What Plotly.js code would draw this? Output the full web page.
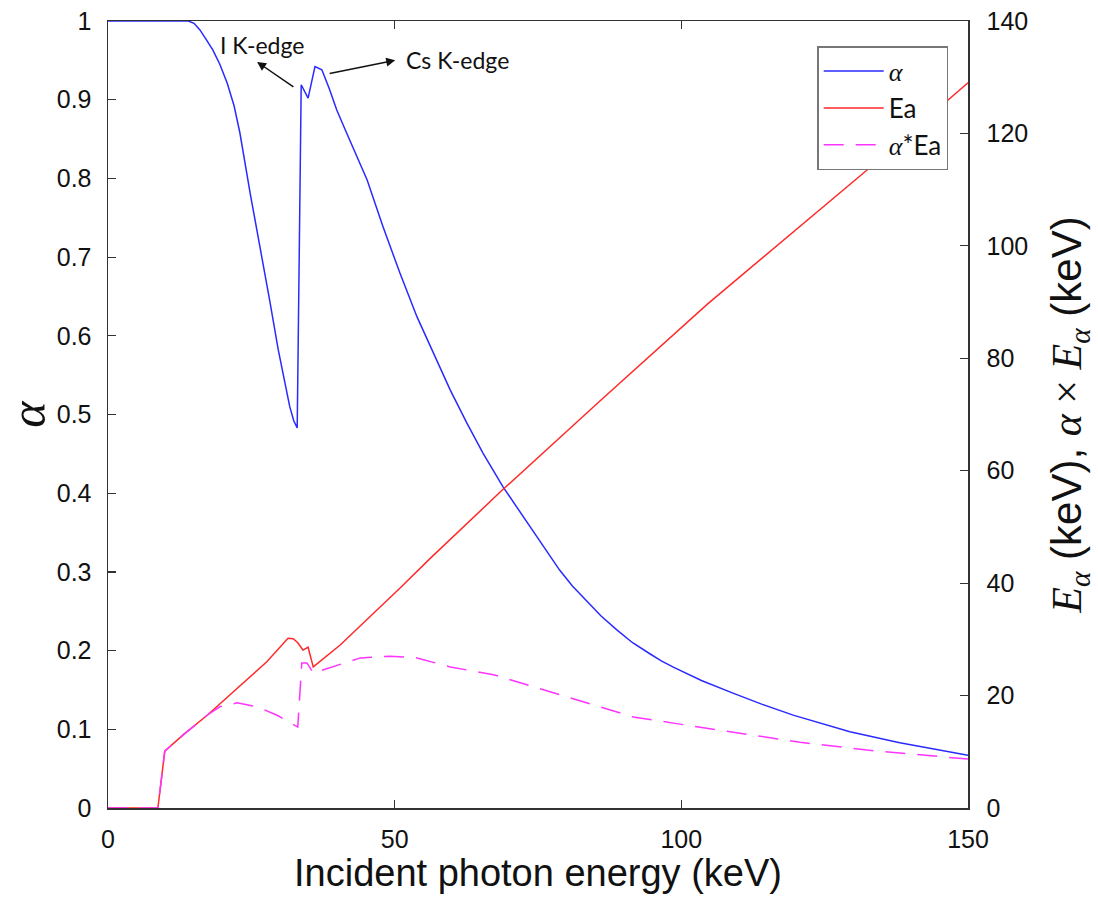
<!DOCTYPE html>
<html>
<head>
<meta charset="utf-8">
<script src="https://cdn.plot.ly/plotly-3.0.1.min.js"></script>
<style>html,body{margin:0;padding:0;background:#fff;}#chart{width:1098px;height:918px;}</style>
</head>
<body>
<div id="chart"></div>
<script>
// Absorption efficiency alpha (left axis)
const alphaEnergy = [0, 14.0, 15.0, 16.0, 17.0, 18.3, 19.5, 20.8, 22.0, 23.0, 24.8, 26.5, 28.2, 29.7, 31.7, 32.4, 33.0, 33.7, 34.9, 36.1, 37.3, 38.6, 39.9, 41.3, 42.7, 45.2, 48.0, 50.9, 53.9, 56.7, 59.7, 62.6, 65.4, 68.9, 71.5, 74.1, 76.5, 78.8, 81.0, 83.6, 86.0, 88.8, 91.5, 94.5, 96.5, 98.6, 103.5, 109.0, 114.0, 119.5, 124.5, 129.4, 138.1, 150.0];
const alphaValues = [1.0, 1.0, 0.997, 0.989, 0.978, 0.963, 0.945, 0.921, 0.892, 0.858, 0.781, 0.715, 0.645, 0.582, 0.510, 0.492, 0.483, 0.919, 0.902, 0.942, 0.938, 0.914, 0.887, 0.863, 0.840, 0.798, 0.738, 0.680, 0.624, 0.578, 0.531, 0.489, 0.451, 0.408, 0.380, 0.353, 0.327, 0.302, 0.282, 0.262, 0.244, 0.226, 0.210, 0.196, 0.187, 0.179, 0.162, 0.146, 0.132, 0.118, 0.107, 0.097, 0.083, 0.067];

// Absorbed energy Ea (right axis, keV)
const eaEnergy = [0, 8.7, 9.9, 13.1, 17.3, 22.7, 27.7, 31.4, 32.3, 33.1, 34.0, 34.9, 35.8, 40.5, 45.2, 50.9, 56.2, 68.4, 85.8, 104.5, 132.4, 150.0];
const eaValues = [0, 0, 10.1, 13.0, 16.5, 21.5, 26.0, 30.2, 30.1, 29.4, 28.1, 28.6, 25.1, 29.0, 33.5, 39.1, 44.4, 56.2, 72.4, 89.6, 113.5, 129.0];

// alpha * Ea (right axis, keV)
const prodEnergy = [0, 8.7, 9.9, 13.1, 17.3, 19.5, 22.5, 26.0, 29.5, 33.1, 33.8, 34.7, 35.8, 39.2, 44.0, 49.2, 53.9, 59.7, 67.2, 69.6, 80.1, 91.6, 98.6, 109.0, 120.7, 132.4, 150.0];
const prodValues = [0, 0, 10.1, 13.0, 16.5, 18.0, 18.7, 18.0, 16.5, 14.4, 25.8, 25.8, 24.0, 25.1, 26.7, 27.0, 26.7, 25.1, 23.7, 23.0, 19.8, 16.2, 15.1, 13.5, 11.7, 10.3, 8.7];

const xTicks = [0, 50, 100, 150];
const yTicks = [0, 0.1, 0.2, 0.3, 0.4, 0.5, 0.6, 0.7, 0.8, 0.9, 1];
const y2Ticks = [0, 20, 40, 60, 80, 100, 120, 140];

const serif = "font-family:'Liberation Serif'";
const traces = [
  {x: alphaEnergy, y: alphaValues, type: 'scatter', mode: 'lines', name: '<span style="' + serif + '"><i>α</i></span>',
   line: {color: '#2a2aff', width: 1.5}, yaxis: 'y'},
  {x: eaEnergy, y: eaValues, type: 'scatter', mode: 'lines', name: 'Ea',
   line: {color: '#ff2a2a', width: 1.5}, yaxis: 'y2'},
  {x: prodEnergy, y: prodValues, type: 'scatter', mode: 'lines', name: '<span style="' + serif + '"><i>α</i></span>*Ea',
   line: {color: '#ff33ff', width: 1.5, dash: '20px,12px'}, yaxis: 'y2'}
];

const axisCommon = {
  showgrid: false, zeroline: false, showline: true, linecolor: '#333', linewidth: 1.5,
  ticks: 'inside', ticklen: 8, tickwidth: 1.2, tickcolor: '#333',
  tickfont: {family: 'Liberation Sans, Arial, sans-serif', size: 25, color: '#111'}
};

const layout = {
  width: 1098, height: 918,
  margin: {l: 108, r: 130, t: 21, b: 110},
  paper_bgcolor: '#fff', plot_bgcolor: '#fff',
  showlegend: true,
  xaxis: Object.assign({}, axisCommon, {
    range: [0, 150], tickvals: xTicks, mirror: 'ticks', ticklabelstandoff: 8,
    title: {text: 'Incident photon energy (keV)', font: {family: 'Liberation Sans, Arial, sans-serif', size: 38, color: '#111'}, standoff: 2}
  }),
  yaxis: Object.assign({}, axisCommon, {
    range: [0, 1], tickvals: yTicks, ticktext: yTicks.map(v => String(v)), ticklabelstandoff: 10,
    title: {text: '<i>α</i>', font: {family: 'Liberation Serif, serif', size: 50, color: '#111'}, standoff: 6}
  }),
  yaxis2: Object.assign({}, axisCommon, {
    range: [0, 140], tickvals: y2Ticks, overlaying: 'y', side: 'right', ticklabelstandoff: 12,
    title: {text: '<span style="' + serif + '"><i>E<sub>α</sub></i></span> (keV), <span style="' + serif + '"><i>α</i> × <i>E<sub>α</sub></i></span> (keV)',
            font: {family: 'Liberation Sans, Arial, sans-serif', size: 42, color: '#111'}, standoff: 24}
  }),
  legend: {
    x: 0.977, y: 0.968, xanchor: 'right', yanchor: 'top',
    bgcolor: '#fff', bordercolor: '#777', borderwidth: 1.5,
    font: {family: 'Lato, sans-serif', size: 26, color: '#111'},
    itemwidth: 60
  },
  annotations: [
    {x: 26.0, y: 0.948, ax: 32.6, ay: 0.915, xref: 'x', yref: 'y', axref: 'x', ayref: 'y',
     text: '', showarrow: true, arrowhead: 2, arrowsize: 1.2, arrowwidth: 1.5, arrowcolor: '#111'},
    {x: 50.1, y: 0.950, ax: 38.4, ay: 0.933, xref: 'x', yref: 'y', axref: 'x', ayref: 'y',
     text: '', showarrow: true, arrowhead: 2, arrowsize: 1.2, arrowwidth: 1.5, arrowcolor: '#111'},
    {x: 26.9, y: 0.969, xref: 'x', yref: 'y', text: 'I K-edge', showarrow: false,
     font: {family: 'Lato, sans-serif', size: 23, color: '#111'}},
    {x: 61.0, y: 0.950, xref: 'x', yref: 'y', text: 'Cs K-edge', showarrow: false,
     font: {family: 'Lato, sans-serif', size: 23, color: '#111'}}
  ]
};

Plotly.newPlot('chart', traces, layout, {displayModeBar: false, staticPlot: true});
</script>
</body>
</html>
